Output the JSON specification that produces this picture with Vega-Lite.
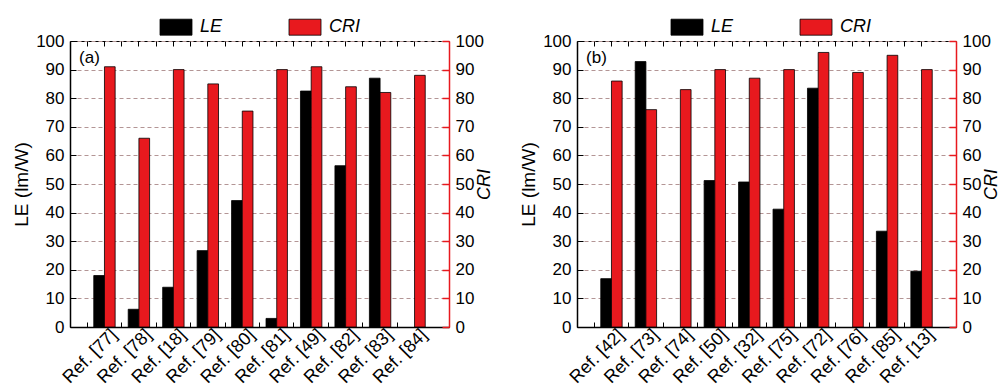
{
  "$schema": "https://vega.github.io/schema/vega-lite/v6.json",
  "background": "white",
  "padding": {"left": 12, "top": 17, "right": 0, "bottom": 0},
  "spacing": 25,
  "config": {
    "font": "Liberation Sans",
    "view": {"stroke": "#000", "strokeWidth": 1},
    "axis": {"labelColor": "#000", "titleColor": "#000", "labelFont": "Liberation Sans", "titleFont": "Liberation Sans", "titleFontWeight": "normal"}
  },
  "datasets": {
    "a": [
      {"ref": "Ref. [77]", "metric": "LE", "value": 18},
      {"ref": "Ref. [77]", "metric": "CRI", "value": 91},
      {"ref": "Ref. [78]", "metric": "LE", "value": 6.2},
      {"ref": "Ref. [78]", "metric": "CRI", "value": 66},
      {"ref": "Ref. [18]", "metric": "LE", "value": 13.9},
      {"ref": "Ref. [18]", "metric": "CRI", "value": 90},
      {"ref": "Ref. [79]", "metric": "LE", "value": 26.7},
      {"ref": "Ref. [79]", "metric": "CRI", "value": 85},
      {"ref": "Ref. [80]", "metric": "LE", "value": 44.2},
      {"ref": "Ref. [80]", "metric": "CRI", "value": 75.5},
      {"ref": "Ref. [81]", "metric": "LE", "value": 3},
      {"ref": "Ref. [81]", "metric": "CRI", "value": 90},
      {"ref": "Ref. [49]", "metric": "LE", "value": 82.5},
      {"ref": "Ref. [49]", "metric": "CRI", "value": 91},
      {"ref": "Ref. [82]", "metric": "LE", "value": 56.4},
      {"ref": "Ref. [82]", "metric": "CRI", "value": 84},
      {"ref": "Ref. [83]", "metric": "LE", "value": 87},
      {"ref": "Ref. [83]", "metric": "CRI", "value": 82},
      {"ref": "Ref. [84]", "metric": "CRI", "value": 88}
    ],
    "b": [
      {"ref": "Ref. [42]", "metric": "LE", "value": 16.9},
      {"ref": "Ref. [42]", "metric": "CRI", "value": 86},
      {"ref": "Ref. [73]", "metric": "LE", "value": 92.8},
      {"ref": "Ref. [73]", "metric": "CRI", "value": 76},
      {"ref": "Ref. [74]", "metric": "CRI", "value": 83},
      {"ref": "Ref. [50]", "metric": "LE", "value": 51.2},
      {"ref": "Ref. [50]", "metric": "CRI", "value": 90},
      {"ref": "Ref. [32]", "metric": "LE", "value": 50.7},
      {"ref": "Ref. [32]", "metric": "CRI", "value": 87},
      {"ref": "Ref. [75]", "metric": "LE", "value": 41.2},
      {"ref": "Ref. [75]", "metric": "CRI", "value": 90},
      {"ref": "Ref. [72]", "metric": "LE", "value": 83.5},
      {"ref": "Ref. [72]", "metric": "CRI", "value": 96},
      {"ref": "Ref. [76]", "metric": "CRI", "value": 89},
      {"ref": "Ref. [85]", "metric": "LE", "value": 33.5},
      {"ref": "Ref. [85]", "metric": "CRI", "value": 95},
      {"ref": "Ref. [13]", "metric": "LE", "value": 19.5},
      {"ref": "Ref. [13]", "metric": "CRI", "value": 90}
    ],
    "la": [{"t": "(a)"}],
    "lb": [{"t": "(b)"}]
  },
  "resolve": {"scale": {"color": "independent", "x": "independent", "xOffset": "independent"}, "legend": {"color": "independent"}},
  "hconcat": [
    {
      "width": 379,
      "height": 286,
      "data": {"name": "a"},
      "layer": [
        {
          "mark": {"type": "bar", "stroke": "#000", "strokeWidth": 0.8},
          "encoding": {
            "x": {"field": "ref", "type": "nominal", "sort": null,
              "scale": {"paddingInner": 0, "paddingOuter": 0.5},
              "axis": {"orient": "bottom", "title": null, "labelAngle": -45, "labelAlign": "right", "labelBaseline": "middle", "labelFontSize": 18, "labelPadding": 5, "labelOffset": 10, "ticks": false, "domainColor": "#000", "domainWidth": 1.5}},
            "xOffset": {"field": "metric", "type": "nominal", "scale": {"domain": ["LE", "CRI"], "paddingInner": 0, "paddingOuter": 0.61}},
            "y": {"field": "value", "type": "quantitative", "stack": null, "scale": {"domain": [0, 100], "nice": false},
              "axis": {"orient": "left", "title": "LE (lm/W)", "titleFontSize": 19, "titlePadding": 4, "values": [0, 10, 20, 30, 40, 50, 60, 70, 80, 90, 100], "labelFontSize": 17, "labelPadding": 12, "tickSize": -6, "tickColor": "#000", "domainColor": "#000", "domainWidth": 1.5, "grid": true, "gridDash": [4, 3], "gridColor": "#b39595", "gridWidth": 1}},
            "color": {"field": "metric", "type": "nominal", "scale": {"domain": ["LE", "CRI"], "range": ["#000000", "#e8191e"]},
              "legend": {"orient": "none", "legendX": 89, "legendY": -23, "direction": "horizontal", "title": null, "symbolType": "M-1,-1H3V1H-1Z", "symbolSize": 256, "symbolStrokeColor": "#000", "symbolStrokeWidth": 0.8, "symbolOpacity": 1, "labelFontSize": 18, "labelFontStyle": "italic", "labelOffset": 23, "columnPadding": 64, "labelColor": "#000"}}
          }
        },
        {
          "mark": {"type": "bar", "opacity": 0},
          "encoding": {
            "x": {"field": "ref", "type": "nominal", "sort": null,
              "axis": {"orient": "bottom", "bandPosition": 0, "labels": false, "domain": false, "title": null, "tickSize": -5, "tickColor": "#000", "tickWidth": 1}},
            "y": {"field": "value", "type": "quantitative", "stack": null,
              "axis": {"orient": "right", "title": "CRI", "titleFontSize": 18, "titleFontStyle": "italic", "titleAngle": 270, "titlePadding": 10, "values": [0, 10, 20, 30, 40, 50, 60, 70, 80, 90, 100], "labelFontSize": 17, "labelPadding": 13, "tickSize": -7, "tickColor": "#e8191e", "tickWidth": 1.5, "domainColor": "#e8191e", "domainWidth": 1.5, "grid": false}}
          }
        },
        {
          "mark": {"type": "bar", "opacity": 0},
          "encoding": {
            "x": {"field": "ref", "type": "nominal", "sort": null,
              "axis": {"orient": "top", "bandPosition": 0.5, "labels": false, "domain": false, "title": null, "tickSize": -5, "tickColor": "#000"}},
            "y": {"field": "value", "type": "quantitative", "stack": null, "axis": null}
          }
        },
        {
          "mark": {"type": "bar", "opacity": 0},
          "encoding": {
            "x": {"field": "ref", "type": "nominal", "sort": null,
              "axis": {"orient": "top", "bandPosition": 0, "labels": false, "domain": false, "title": null, "tickSize": -5, "tickColor": "#000"}},
            "y": {"field": "value", "type": "quantitative", "stack": null, "axis": null}
          }
        },
        {
          "data": {"name": "la"},
          "mark": {"type": "text", "fontSize": 17, "dx": -15, "align": "center", "baseline": "middle", "color": "#000"},
          "encoding": {
            "x": {"datum": "Ref. [77]", "type": "nominal", "axis": null},
            "y": {"datum": 94, "type": "quantitative", "axis": null},
            "text": {"field": "t"}
          }
        }
      ],
      "resolve": {"axis": {"x": "independent", "y": "independent"}}
    },
    {
      "width": 379,
      "height": 286,
      "data": {"name": "b"},
      "layer": [
        {
          "mark": {"type": "bar", "stroke": "#000", "strokeWidth": 0.8},
          "encoding": {
            "x": {"field": "ref", "type": "nominal", "sort": null,
              "scale": {"paddingInner": 0, "paddingOuter": 0.5},
              "axis": {"orient": "bottom", "title": null, "labelAngle": -45, "labelAlign": "right", "labelBaseline": "middle", "labelFontSize": 18, "labelPadding": 5, "labelOffset": 10, "ticks": false, "domainColor": "#000", "domainWidth": 1.5}},
            "xOffset": {"field": "metric", "type": "nominal", "scale": {"domain": ["LE", "CRI"], "paddingInner": 0, "paddingOuter": 0.61}},
            "y": {"field": "value", "type": "quantitative", "stack": null, "scale": {"domain": [0, 100], "nice": false},
              "axis": {"orient": "left", "title": "LE (lm/W)", "titleFontSize": 19, "titlePadding": 4, "values": [0, 10, 20, 30, 40, 50, 60, 70, 80, 90, 100], "labelFontSize": 17, "labelPadding": 12, "tickSize": -6, "tickColor": "#000", "domainColor": "#000", "domainWidth": 1.5, "grid": true, "gridDash": [4, 3], "gridColor": "#b39595", "gridWidth": 1}},
            "color": {"field": "metric", "type": "nominal", "scale": {"domain": ["LE", "CRI"], "range": ["#000000", "#e8191e"]},
              "legend": {"orient": "none", "legendX": 93, "legendY": -23, "direction": "horizontal", "title": null, "symbolType": "M-1,-1H3V1H-1Z", "symbolSize": 256, "symbolStrokeColor": "#000", "symbolStrokeWidth": 0.8, "symbolOpacity": 1, "labelFontSize": 18, "labelFontStyle": "italic", "labelOffset": 23, "columnPadding": 64, "labelColor": "#000"}}
          }
        },
        {
          "mark": {"type": "bar", "opacity": 0},
          "encoding": {
            "x": {"field": "ref", "type": "nominal", "sort": null,
              "axis": {"orient": "bottom", "bandPosition": 0, "labels": false, "domain": false, "title": null, "tickSize": -5, "tickColor": "#000", "tickWidth": 1}},
            "y": {"field": "value", "type": "quantitative", "stack": null,
              "axis": {"orient": "right", "title": "CRI", "titleFontSize": 18, "titleFontStyle": "italic", "titleAngle": 270, "titlePadding": 10, "values": [0, 10, 20, 30, 40, 50, 60, 70, 80, 90, 100], "labelFontSize": 17, "labelPadding": 13, "tickSize": -7, "tickColor": "#e8191e", "tickWidth": 1.5, "domainColor": "#e8191e", "domainWidth": 1.5, "grid": false}}
          }
        },
        {
          "mark": {"type": "bar", "opacity": 0},
          "encoding": {
            "x": {"field": "ref", "type": "nominal", "sort": null,
              "axis": {"orient": "top", "bandPosition": 0.5, "labels": false, "domain": false, "title": null, "tickSize": -5, "tickColor": "#000"}},
            "y": {"field": "value", "type": "quantitative", "stack": null, "axis": null}
          }
        },
        {
          "mark": {"type": "bar", "opacity": 0},
          "encoding": {
            "x": {"field": "ref", "type": "nominal", "sort": null,
              "axis": {"orient": "top", "bandPosition": 0, "labels": false, "domain": false, "title": null, "tickSize": -5, "tickColor": "#000"}},
            "y": {"field": "value", "type": "quantitative", "stack": null, "axis": null}
          }
        },
        {
          "data": {"name": "lb"},
          "mark": {"type": "text", "fontSize": 17, "dx": -15, "align": "center", "baseline": "middle", "color": "#000"},
          "encoding": {
            "x": {"datum": "Ref. [42]", "type": "nominal", "axis": null},
            "y": {"datum": 94, "type": "quantitative", "axis": null},
            "text": {"field": "t"}
          }
        }
      ],
      "resolve": {"axis": {"x": "independent", "y": "independent"}}
    }
  ]
}
